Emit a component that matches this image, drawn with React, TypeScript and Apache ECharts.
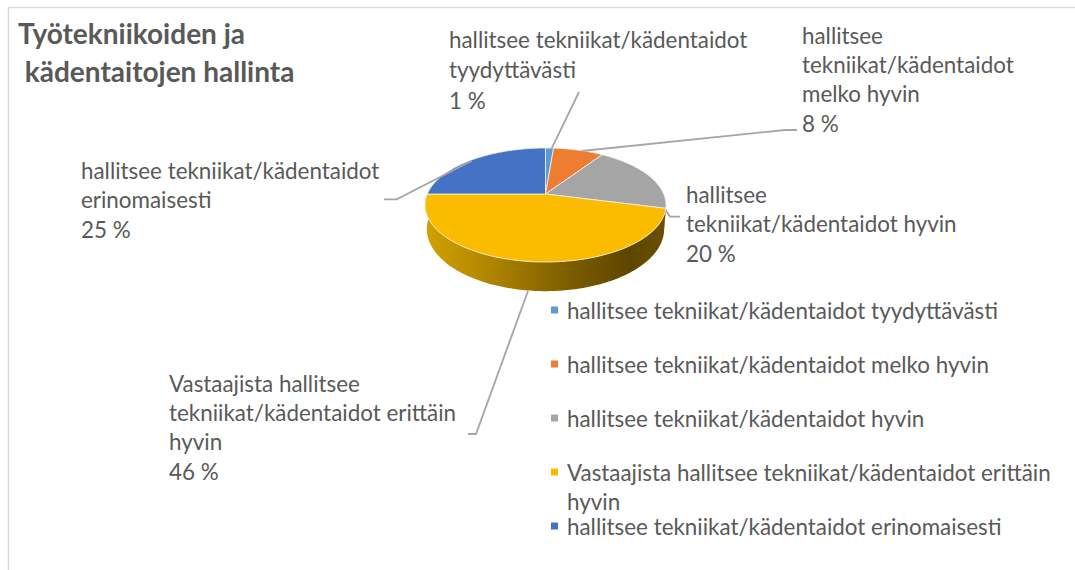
import React, { useEffect, useRef } from "react";
import * as echarts from "echarts";

const TITLE = "Työtekniikoiden ja\n kädentaitojen hallinta";
const categories = [
  "hallitsee tekniikat/kädentaidot tyydyttävästi",
  "hallitsee tekniikat/kädentaidot melko hyvin",
  "hallitsee tekniikat/kädentaidot hyvin",
  "Vastaajista hallitsee tekniikat/kädentaidot erittäin hyvin",
  "hallitsee tekniikat/kädentaidot erinomaisesti",
];
const values = [1.3, 8.1, 19.6, 46, 25];
const colors = ["#5B9BD5", "#ED7D31", "#A5A5A5", "#FBBC00", "#4472C4"];
const labelLines = [
  ["hallitsee tekniikat/kädentaidot", "tyydyttävästi"],
  ["hallitsee", "tekniikat/kädentaidot", "melko hyvin"],
  ["hallitsee", "tekniikat/kädentaidot hyvin"],
  ["Vastaajista hallitsee", "tekniikat/kädentaidot erittäin", "hyvin"],
  ["hallitsee tekniikat/kädentaidot", "erinomaisesti"],
];
const legendFirstLines = [
  "hallitsee tekniikat/kädentaidot tyydyttävästi",
  "hallitsee tekniikat/kädentaidot melko hyvin",
  "hallitsee tekniikat/kädentaidot hyvin",
  "Vastaajista hallitsee tekniikat/kädentaidot erittäin",
  "hallitsee tekniikat/kädentaidot erinomaisesti",
];
const legendWrap = "hyvin";

// layout (pixels)
const labelPos = [
  { x: 449, y: 39, lh: 30.5 },
  { x: 802, y: 35, lh: 29.4 },
  { x: 686, y: 194, lh: 29.5 },
  { x: 169, y: 383, lh: 29.4 },
  { x: 81, y: 170, lh: 29.5 },
];
const leaders = [
  [[551.7, 148.3], [579, 92]],
  [[581.7, 151], [785, 130], [797, 130]],
  [[665, 209], [670, 216.6], [680, 216.6]],
  [[528, 291], [476, 434], [468, 434]],
  [[471.7, 160.7], [396.7, 199.3], [384, 199.3]],
];
const legendY = [310, 364, 418, 472, 526];

const CX = 545.5, CY = 194, RX = 118.2, RY = 54.9, K = 0.193;
const total = values.reduce((a, b) => a + b, 0);
const FONT = "Lato";
const TEXT = "#595959";
const FS = 22.4;

function project(thetaDeg: number): number[] {
  const t = (thetaDeg * Math.PI) / 180;
  const u = Math.sin(t), v = -Math.cos(t);
  const s = 1 / (1 - K * v);
  return [CX + RX * u * s, CY + RY * v * s];
}
function lower(p: number[]): number[] {
  return [CX + (p[0] - CX) * 0.985, p[1] + 23 + (p[1] - CY) * 0.09];
}
function arc(a: number, b: number): number[][] {
  const pts: number[][] = [];
  const n = Math.max(2, Math.ceil(b - a));
  for (let i = 0; i <= n; i++) pts.push(project(a + ((b - a) * i) / n));
  return pts;
}

const wallFill = () =>
  new echarts.graphic.LinearGradient(0, 0, 1, 0, [
    { offset: 0, color: "#d2a200" },
    { offset: 0.3, color: "#ab8100" },
    { offset: 0.6, color: "#7c5d00" },
    { offset: 0.85, color: "#5e4600" },
    { offset: 1, color: "#6b5000" },
  ]);

export default function App() {
  const ref = useRef<HTMLDivElement>(null);
  useEffect(() => {
    document.body.style.margin = "0";
    const chart = echarts.init(ref.current!, undefined, { renderer: "svg" });
    let acc = 0;
    const series = categories.map((name, i) => {
      const startDeg = (acc / total) * 360;
      acc += values[i];
      const endDeg = (acc / total) * 360;
      return {
        type: "custom",
        name,
        coordinateSystem: "none",
        itemStyle: { color: colors[i] },
        data: [[values[i]]],
        silent: true,
        renderItem: (_p: any, api: any) => {
          const pct = Math.round(api.value(0));
          const children: any[] = [];
          const wa = Math.max(startDeg, 100), wb = Math.min(endDeg, 270);
          if (wb > wa) {
            const top = arc(wa, wb);
            const bottom = top.map(lower).reverse();
            children.push({
              type: "polygon",
              shape: { points: top.concat(bottom) },
              style: { fill: wallFill(), stroke: "none" },
            });
          }
          children.push({
            type: "polygon",
            shape: { points: [[CX, CY], ...arc(startDeg, endDeg)] },
            style: { fill: colors[i], stroke: "#f2f2f2", lineWidth: 0.8 },
          });
          children.push({
            type: "polyline",
            shape: { points: leaders[i] },
            style: { fill: "none", stroke: "#a6a6a6", lineWidth: 1.8 },
          });
          const lines = [...labelLines[i], `${pct} %`];
          lines.forEach((text, j) => {
            children.push({
              type: "text",
              x: labelPos[i].x,
              y: labelPos[i].y + j * labelPos[i].lh,
              style: {
                text,
                fill: TEXT,
                font: `${FS}px ${FONT}`,
                textAlign: "left",
                textVerticalAlign: "middle",
              },
            });
          });
          return { type: "group", children };
        },
      };
    });
    chart.setOption({
      animation: false,
      backgroundColor: "#ffffff",
      title: {
        text: TITLE,
        left: 18,
        top: 14,
        padding: 0,
        textStyle: {
          fontFamily: FONT,
          fontWeight: "bold",
          fontSize: 28,
          lineHeight: 38,
          color: TEXT,
        },
      },
      legend: categories.map((name, i) => ({
        data: [name],
        orient: "vertical",
        left: 551,
        top: legendY[i] - 12,
        padding: 0,
        icon: "rect",
        itemWidth: 7,
        itemHeight: 7,
        selectedMode: false,
        formatter: () => legendFirstLines[i],
        textStyle: {
          fontFamily: FONT,
          fontSize: FS,
          lineHeight: 24,
          color: TEXT,
          padding: [0, 0, 0, 4],
        },
      })),
      graphic: [
        { type: "line", shape: { x1: 8, y1: 7.5, x2: 1075, y2: 7.5 }, style: { stroke: "#d9d9d9", lineWidth: 1.5 } },
        { type: "line", shape: { x1: 8.5, y1: 7, x2: 8.5, y2: 570 }, style: { stroke: "#d9d9d9", lineWidth: 1.5 } },
        {
          type: "text",
          x: 567,
          y: 501,
          style: { text: legendWrap, fill: TEXT, font: `${FS}px ${FONT}`, textVerticalAlign: "middle" },
        },
      ],
      series,
    });
    return () => chart.dispose();
  }, []);
  return <div ref={ref} style={{ width: 1075, height: 570 }} />;
}
